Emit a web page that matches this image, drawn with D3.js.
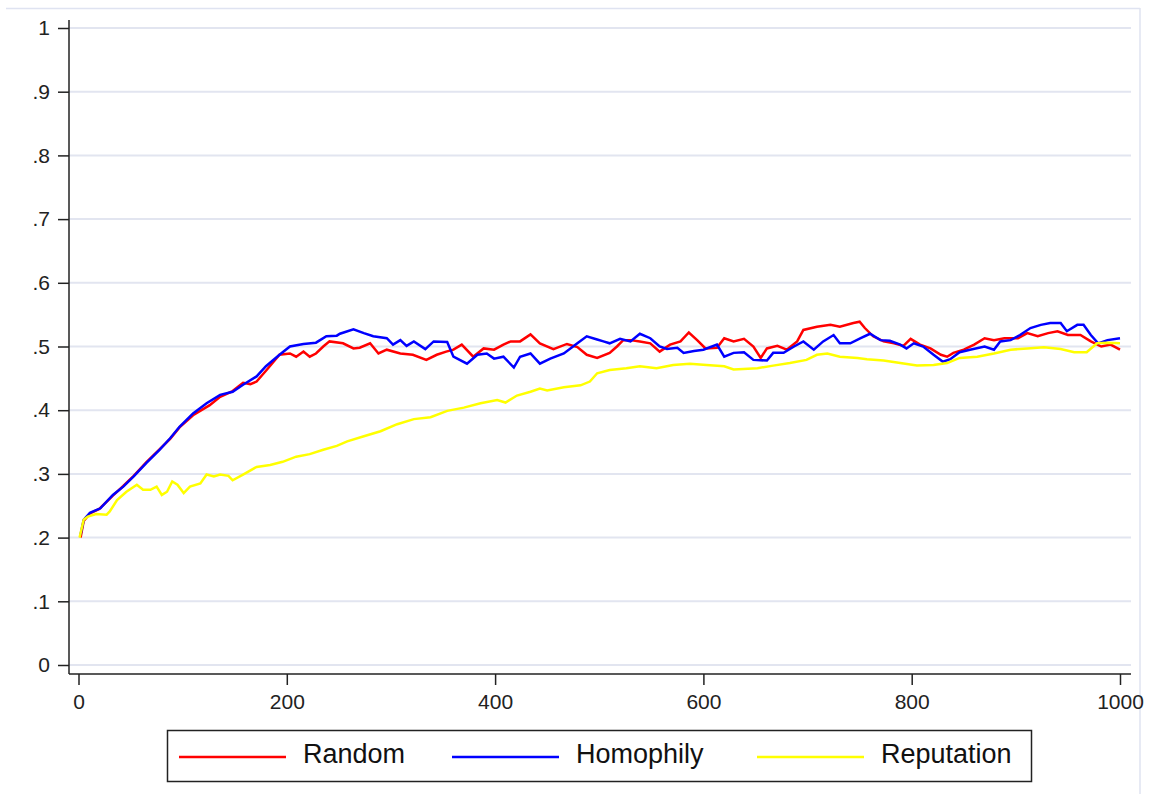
<!DOCTYPE html>
<html>
<head>
<meta charset="utf-8">
<script src="https://cdn.jsdelivr.net/npm/d3@7"></script>
<style>
  html, body { margin: 0; padding: 0; background: #fff; }
  svg { display: block; font-family: Arial, "Liberation Sans", sans-serif; }
</style>
</head>
<body>
<svg id="chart" width="1150" height="794"></svg>
<script>
// ---- data ----
const seriesNames = ["Random", "Homophily", "Reputation"];
const seriesColors = ["#ff0000", "#0000ff", "#ffff00"];

const randomSteps = [2,5,11,20,33,43,53,65,78,88,97,110,126,136,148,158,165,171,180,193,203,209,216,222,228,235,241,254,264,270,280,288,296,309,321,334,344,353,360,368,379,389,399,408,415,424,434,443,456,469,479,488,498,510,517,523,530,539,549,558,568,578,586,594,602,613,620,629,639,648,655,661,671,680,690,696,709,722,731,744,750,755,763,773,783,792,799,808,818,828,834,840,850,860,870,879,889,902,911,921,931,940,950,962,972,982,991,1000];
const randomValues = [0.200,0.226,0.238,0.245,0.266,0.281,0.297,0.318,0.339,0.355,0.373,0.392,0.408,0.421,0.430,0.443,0.441,0.445,0.462,0.487,0.489,0.484,0.492,0.484,0.489,0.500,0.508,0.505,0.497,0.498,0.505,0.489,0.495,0.489,0.487,0.479,0.487,0.492,0.495,0.503,0.484,0.497,0.495,0.503,0.508,0.508,0.519,0.505,0.496,0.504,0.499,0.487,0.482,0.490,0.500,0.510,0.510,0.508,0.505,0.492,0.503,0.508,0.522,0.510,0.497,0.498,0.513,0.508,0.512,0.500,0.482,0.497,0.501,0.495,0.508,0.526,0.531,0.534,0.531,0.537,0.539,0.529,0.516,0.508,0.505,0.501,0.512,0.503,0.497,0.487,0.484,0.490,0.495,0.503,0.513,0.510,0.513,0.513,0.521,0.516,0.521,0.524,0.518,0.518,0.508,0.500,0.503,0.495];

const homophilySteps = [2,5,11,21,33,43,53,65,78,88,97,110,123,136,148,158,171,180,193,203,216,228,238,248,251,264,274,283,296,302,309,315,322,333,341,354,360,373,383,392,399,408,418,424,434,443,453,466,479,488,498,504,510,520,530,539,549,558,565,575,581,591,600,613,620,629,639,648,661,667,677,687,696,706,715,725,731,741,751,760,770,779,789,795,802,811,821,830,837,846,856,870,879,885,895,904,914,924,933,943,949,959,965,972,979,988,1000];
const homophilyValues = [0.205,0.228,0.239,0.246,0.267,0.280,0.296,0.317,0.338,0.356,0.374,0.395,0.411,0.424,0.429,0.440,0.453,0.469,0.487,0.500,0.504,0.506,0.516,0.517,0.520,0.527,0.521,0.516,0.513,0.503,0.510,0.501,0.508,0.496,0.508,0.507,0.484,0.473,0.487,0.489,0.481,0.484,0.467,0.484,0.489,0.473,0.481,0.489,0.505,0.516,0.511,0.508,0.505,0.512,0.508,0.520,0.513,0.500,0.496,0.498,0.490,0.493,0.495,0.503,0.484,0.490,0.491,0.479,0.478,0.490,0.490,0.500,0.508,0.495,0.508,0.518,0.505,0.505,0.513,0.520,0.510,0.509,0.503,0.497,0.505,0.500,0.487,0.476,0.480,0.491,0.495,0.500,0.495,0.508,0.510,0.518,0.529,0.534,0.537,0.537,0.524,0.534,0.534,0.518,0.505,0.510,0.513];

const reputationSteps = [1,5,9,17,27,30,37,46,56,62,69,75,80,85,90,95,101,107,117,123,130,136,144,148,158,171,184,196,209,222,235,248,258,274,290,306,322,338,354,370,386,402,410,421,434,443,450,466,482,491,498,510,526,539,555,571,587,603,620,629,652,667,683,699,709,719,731,748,757,773,789,805,821,834,846,863,879,895,911,927,943,956,968,978,988,1000];
const reputationValues = [0.200,0.228,0.233,0.237,0.236,0.241,0.259,0.272,0.283,0.275,0.275,0.280,0.267,0.272,0.288,0.283,0.270,0.280,0.285,0.299,0.296,0.299,0.297,0.290,0.299,0.311,0.314,0.319,0.327,0.331,0.338,0.344,0.351,0.359,0.367,0.378,0.386,0.389,0.399,0.404,0.411,0.416,0.412,0.423,0.429,0.434,0.431,0.436,0.439,0.445,0.458,0.463,0.466,0.469,0.466,0.471,0.473,0.471,0.469,0.464,0.466,0.470,0.474,0.479,0.487,0.489,0.484,0.482,0.480,0.478,0.474,0.470,0.471,0.474,0.482,0.484,0.489,0.495,0.497,0.499,0.496,0.491,0.491,0.505,0.506,0.505];

const xTickValues = [0, 200, 400, 600, 800, 1000];
const yTickValues = [0, 0.1, 0.2, 0.3, 0.4, 0.5, 0.6, 0.7, 0.8, 0.9, 1];
const yTickLabels = ["0", ".1", ".2", ".3", ".4", ".5", ".6", ".7", ".8", ".9", "1"];

// ---- layout ----
const svg = d3.select("#chart");
const plotLeft = 69, plotRight = 1131, plotTop = 20, plotBottom = 674;

const x = d3.scaleLinear().domain([0, 1000]).range([78.5, 1120]);
const y = d3.scaleLinear().domain([0, 1]).range([665, 28]);

// outer frame edges (light)
svg.append("line").attr("x1", 6).attr("x2", 1140).attr("y1", 8.5).attr("y2", 8.5)
  .attr("stroke", "#dfe3f1").attr("stroke-width", 1.5);
svg.append("line").attr("x1", 1140).attr("x2", 1140).attr("y1", 8).attr("y2", 794)
  .attr("stroke", "#dfe3f1").attr("stroke-width", 1.5);

// gridlines
svg.append("g").selectAll("line").data(yTickValues).join("line")
  .attr("x1", plotLeft).attr("x2", plotRight)
  .attr("y1", d => y(d)).attr("y2", d => y(d))
  .attr("stroke", "#e2e5f0").attr("stroke-width", 2);

// y axis
const yAxis = d3.axisLeft(y).tickValues(yTickValues)
  .tickFormat((d, i) => yTickLabels[i]).tickSize(11).tickPadding(8);
const gy = svg.append("g").attr("transform", `translate(${plotLeft},0)`).call(yAxis);
gy.select(".domain").attr("d", `M0,${plotTop}V${plotBottom}`).attr("stroke", "#222").attr("stroke-width", 1.5);
gy.selectAll(".tick line").attr("stroke", "#222").attr("stroke-width", 1.5);
gy.selectAll(".tick text").attr("font-size", 21).attr("fill", "#222")
  .attr("font-family", "Arial, 'Liberation Sans', sans-serif");

// x axis
const xAxis = d3.axisBottom(x).tickValues(xTickValues).tickFormat(d3.format("d"))
  .tickSize(11).tickPadding(9);
const gx = svg.append("g").attr("transform", `translate(0,${plotBottom})`).call(xAxis);
gx.select(".domain").attr("d", `M${plotLeft},0H${plotRight}`).attr("stroke", "#222").attr("stroke-width", 1.5);
gx.selectAll(".tick line").attr("stroke", "#222").attr("stroke-width", 1.5);
gx.selectAll(".tick text").attr("font-size", 21).attr("fill", "#222")
  .attr("font-family", "Arial, 'Liberation Sans', sans-serif");

// lines
const allSeries = [
  { steps: randomSteps, values: randomValues },
  { steps: homophilySteps, values: homophilyValues },
  { steps: reputationSteps, values: reputationValues }
];
const line = d3.line().x(d => x(d[0])).y(d => y(d[1]));
allSeries.forEach((s, i) => {
  const pts = s.steps.map((st, j) => [st, s.values[j]]);
  svg.append("path").datum(pts)
    .attr("d", line)
    .attr("fill", "none")
    .attr("stroke", seriesColors[i])
    .attr("stroke-width", 2.5)
    .attr("stroke-linejoin", "miter");
});

// legend
const legend = svg.append("g");
legend.append("rect").attr("x", 167.5).attr("y", 730.5).attr("width", 864).attr("height", 51)
  .attr("fill", "#fff").attr("stroke", "#222").attr("stroke-width", 1.5);
const legendKeyX = [179, 452, 757];
seriesNames.forEach((name, i) => {
  legend.append("line").attr("x1", legendKeyX[i]).attr("x2", legendKeyX[i] + 107)
    .attr("y1", 757).attr("y2", 757)
    .attr("stroke", seriesColors[i]).attr("stroke-width", 2.5);
  legend.append("text").attr("x", legendKeyX[i] + 124).attr("y", 763)
    .attr("font-size", 27).attr("fill", "#111").text(name);
});
</script>
</body>
</html>
